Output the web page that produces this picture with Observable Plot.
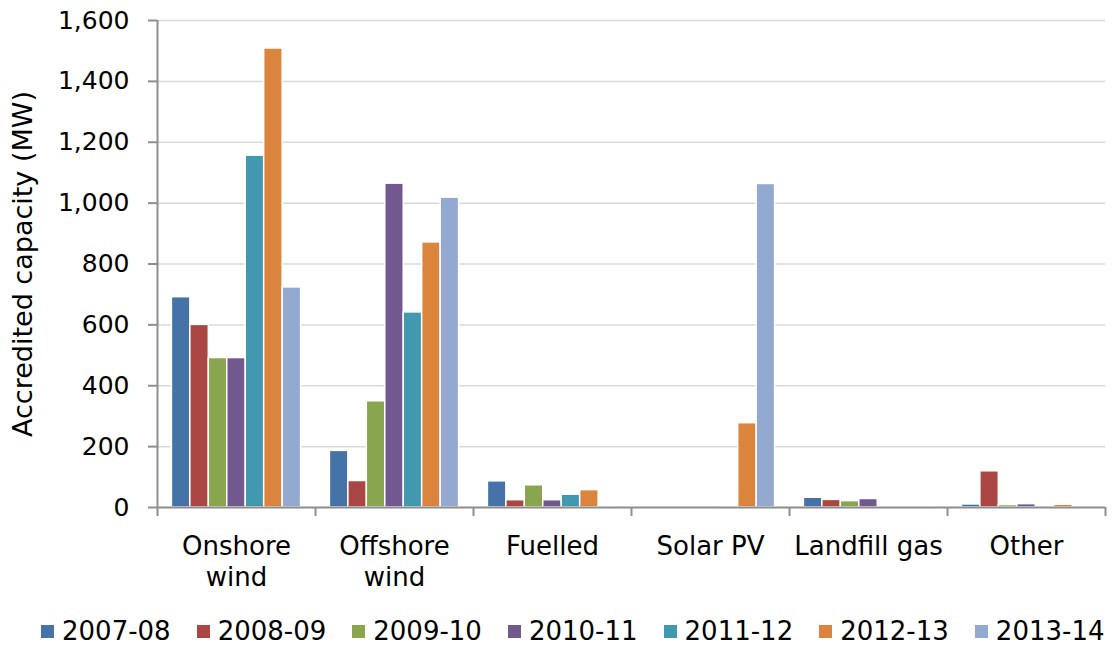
<!DOCTYPE html>
<html>
<head>
<meta charset="utf-8">
<script src="https://cdn.jsdelivr.net/npm/d3@7"></script>
<script src="https://cdn.jsdelivr.net/npm/@observablehq/plot@0.6"></script>
<style>
  html, body { margin: 0; padding: 0; background: #fff; }
  #chart svg { display: block; }
  .legend { display: flex; align-items: center; padding-left: 41px; margin-top: 6px;
            font-family: "DejaVu Sans", Verdana, sans-serif; font-size: 26px; line-height: 31px; color: #000; }
  .legend .item { display: flex; align-items: center; margin-right: 26px; white-space: nowrap; }
  .legend .sw { width: 13px; height: 13px; margin-right: 8px; flex: none; }
</style>
</head>
<body>
<div id="chart"></div>
<script>
// ---- data ----
const categories = ["Onshore wind", "Offshore wind", "Fuelled", "Solar PV", "Landfill gas", "Other"];
const categoryLabels = ["Onshore\nwind", "Offshore\nwind", "Fuelled", "Solar PV", "Landfill gas", "Other"];
const years = ["2007-08", "2008-09", "2009-10", "2010-11", "2011-12", "2012-13", "2013-14"];
const colors = ["#4572a7", "#aa4643", "#89a54e", "#71588f", "#4198af", "#db843d", "#93a9cf"];

const onshoreWind  = [691, 600, 491, 491, 1156, 1508, 723];
const offshoreWind = [186, 87, 349, 1064, 641, 871, 1018];
const fuelled      = [86, 24, 73, 24, 42, 57, 5];
const solarPV      = [0, 0, 0, 0, 1, 277, 1063];
const landfillGas  = [32, 25, 21, 28, 1, 1, 1];
const other        = [10, 119, 8, 11, 0, 9, 0];

const yTicks = [0, 200, 400, 600, 800, 1000, 1200, 1400, 1600];
const yLabel = "Accredited capacity (MW)";

// ---- table built from arrays ----
const series = [onshoreWind, offshoreWind, fuelled, solarPV, landfillGas, other];
const data = categories.flatMap((c, i) => years.map((y, j) => ({category: c, year: y, value: series[i][j]})));

// ---- layout ----
const W = 1112, H = 610, mL = 157, mR = 7, mT = 20, mB = 103;
const pOuter = 0.78;
const facetW = (W - mL - mR) / categories.length;
const step = facetW / (years.length + 2 * pOuter);
const edge = step * pOuter + step / 2; // from first band centre to facet edge
const axisColor = "#8f8f8f";

const chart = Plot.plot({
  width: W, height: H,
  marginLeft: mL, marginRight: mR, marginTop: mT, marginBottom: mB,
  style: {fontFamily: "'DejaVu Sans', Verdana, sans-serif", fontSize: "25px", color: "#000", background: "#fff"},
  fx: {domain: categories, padding: 0, round: false, axis: null, label: null},
  x: {domain: years, paddingInner: 0, paddingOuter: pOuter, round: false, axis: null},
  y: {domain: [0, 1600], axis: null},
  color: {domain: years, range: colors},
  marks: [
    Plot.gridY(yTicks, {stroke: "#d9d9d9", strokeOpacity: 1, strokeWidth: 1.5}),
    Plot.barY(data, {fx: "category", x: "year", y: "value", fill: "year", stroke: "#fff", strokeWidth: 1.5}),
    Plot.ruleY([0], {stroke: axisColor, strokeWidth: 2}),
    Plot.ruleX([categories[0]], {fx: d => d, x: () => years[0], y1: 1600, y2: 0, dx: -edge, insetBottom: -9, stroke: axisColor, strokeWidth: 2}),
    Plot.ruleX(categories.slice(1), {fx: d => d, x: () => years[0], y1: 0, y2: 0, dx: -edge, insetBottom: -9, stroke: axisColor, strokeWidth: 2}),
    Plot.ruleX([categories[categories.length - 1]], {fx: d => d, x: () => years[years.length - 1], y1: 0, y2: 0, dx: edge, insetBottom: -9, stroke: axisColor, strokeWidth: 2}),
    Plot.axisY(yTicks, {
      anchor: "left", tickSize: 9, tickPadding: 19, stroke: axisColor, strokeWidth: 2,
      tickFormat: d3.format(","), fontSize: 25, label: null
    }),
    Plot.text([yLabel], {
      fx: () => categories[0], text: d => d, frameAnchor: "left", rotate: -90,
      lineAnchor: "top", textAnchor: "middle", dx: -145, fontSize: 27, fill: "#000"
    }),
    Plot.text(categories, {
      fx: d => d, text: (d, i) => categoryLabels[i], frameAnchor: "bottom",
      lineAnchor: "top", dy: 25, fontSize: 26, lineHeight: 1.2, fill: "#000"
    })
  ]
});
document.getElementById("chart").appendChild(chart);

// ---- legend below the chart ----
const legend = document.createElement("div");
legend.className = "legend";
years.forEach((y, i) => {
  const item = document.createElement("div");
  item.className = "item";
  const sw = document.createElement("span");
  sw.className = "sw";
  sw.style.background = colors[i];
  const t = document.createElement("span");
  t.textContent = y;
  item.appendChild(sw);
  item.appendChild(t);
  legend.appendChild(item);
});
document.body.appendChild(legend);
</script>
</body>
</html>
